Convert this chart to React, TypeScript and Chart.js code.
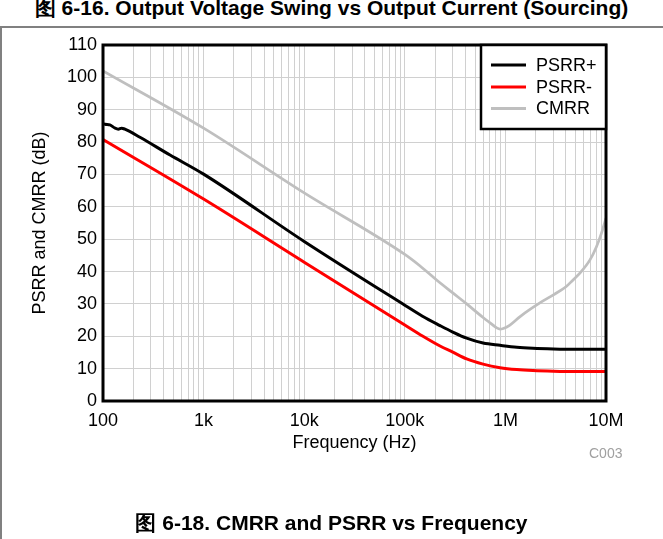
import React, { useEffect, useRef } from 'react';
import { Chart, registerables } from 'chart.js';

Chart.register(...registerables);

const FONT = '"Liberation Sans", Arial, Helvetica, sans-serif';

// Tick labels
const yTickValues = [0, 10, 20, 30, 40, 50, 60, 70, 80, 90, 100, 110];
const xDecades = [100, 1000, 10000, 100000, 1000000, 10000000];
const xDecadeLabels = ['100', '1k', '10k', '100k', '1M', '10M'];

// Series names / colours
const seriesNames = ['PSRR+', 'PSRR-', 'CMRR'];
const seriesColors = ['#000000', '#ff0000', '#bfbfbf'];

// PSRR+ (dB) vs frequency (Hz)
const psrrPlusFreq = [100, 105, 117, 132, 142, 153, 165, 233, 464, 1000, 10000, 100000, 150000, 224000, 300000, 412000, 600000, 884000, 1300000, 1880000, 3000000, 5000000, 10000000];
const psrrPlusDb = [85.7, 85.5, 85.3, 84.3, 84.0, 84.3, 84.0, 81.5, 76.0, 70.1, 49.3, 29.6, 26.2, 23.3, 21.3, 19.4, 17.9, 17.2, 16.6, 16.3, 16.1, 16.0, 16.0];

// PSRR- (dB)
const psrrMinusFreq = [100, 1000, 10000, 100000, 150000, 224000, 300000, 412000, 600000, 884000, 1300000, 1880000, 3000000, 5000000, 10000000];
const psrrMinusDb = [80.8, 62.4, 42.9, 23.5, 20.1, 17.0, 15.1, 13.0, 11.4, 10.3, 9.7, 9.4, 9.2, 9.1, 9.1];

// CMRR (dB)
const cmrrFreq = [100, 1000, 10000, 100000, 141000, 207000, 300000, 412000, 600000, 700000, 819000, 884000, 953000, 1100000, 1400000, 2200000, 3000000, 4000000, 4700000, 5500000, 6930000, 8000000, 9000000, 10000000];
const cmrrDb = [102.0, 84.3, 64.3, 45.3, 41.8, 37.4, 33.4, 30.0, 25.8, 24.2, 22.6, 22.2, 22.4, 23.4, 26.1, 30.3, 32.8, 35.3, 37.4, 39.5, 43.6, 47.5, 51.8, 56.5];

const minorTicks: number[] = [];
for (let e = 2; e <= 7; e++) {
  for (let m = 1; m <= 9; m++) {
    const v = m * Math.pow(10, e);
    if (v <= 10000000) minorTicks.push(v);
  }
}

function toPoints(f: number[], v: number[]) {
  return f.map((x, i) => ({ x, y: v[i] }));
}

const framePlugin = {
  id: 'frameAndLegend',
  afterDraw(chart: any) {
    const { ctx, chartArea } = chart;
    const { left, top, right, bottom } = chartArea;
    ctx.save();
    ctx.strokeStyle = '#000';
    ctx.lineWidth = 3;
    ctx.strokeRect(left, top, right - left, bottom - top);

    // legend box
    const bw = 125;
    const bh = 84;
    const bx = right - bw;
    const by = top;
    ctx.fillStyle = '#fff';
    ctx.fillRect(bx, by, bw, bh);
    ctx.lineWidth = 2.5;
    ctx.strokeRect(bx, by, bw, bh);
    ctx.font = '18px ' + FONT;
    ctx.textBaseline = 'middle';
    ctx.textAlign = 'left';
    const rows = [20, 42, 63.5];
    seriesNames.forEach((name, i) => {
      const y = by + rows[i];
      ctx.strokeStyle = seriesColors[i];
      ctx.lineWidth = 3;
      ctx.beginPath();
      ctx.moveTo(bx + 10, y);
      ctx.lineTo(bx + 45, y);
      ctx.stroke();
      ctx.fillStyle = '#000';
      ctx.fillText(name, bx + 55, y + 1);
    });
    ctx.restore();
  },
};

export default function App() {
  const canvasRef = useRef<HTMLCanvasElement>(null);

  useEffect(() => {
    const canvas = canvasRef.current;
    if (!canvas) return;
    const chart = new Chart(canvas, {
      type: 'line',
      data: {
        datasets: [
          {
            label: seriesNames[0],
            data: toPoints(psrrPlusFreq, psrrPlusDb),
            borderColor: seriesColors[0],
            borderWidth: 3,
            pointRadius: 0,
            cubicInterpolationMode: 'monotone',
            order: 1,
          },
          {
            label: seriesNames[1],
            data: toPoints(psrrMinusFreq, psrrMinusDb),
            borderColor: seriesColors[1],
            borderWidth: 3,
            pointRadius: 0,
            cubicInterpolationMode: 'monotone',
            order: 2,
          },
          {
            label: seriesNames[2],
            data: toPoints(cmrrFreq, cmrrDb),
            borderColor: seriesColors[2],
            borderWidth: 2.75,
            pointRadius: 0,
            cubicInterpolationMode: 'monotone',
            order: 3,
          },
        ],
      },
      options: {
        animation: false,
        responsive: false,
        maintainAspectRatio: false,
        layout: { padding: { top: 45, left: 0, right: 57, bottom: 78 } },
        plugins: { legend: { display: false }, tooltip: { enabled: false } },
        scales: {
          x: {
            type: 'logarithmic',
            min: 100,
            max: 10000000,
            afterBuildTicks: (s: any) => {
              s.ticks = minorTicks.map((v) => ({ value: v }));
            },
            afterFit: (s: any) => {
              s.height = 60;
            },
            ticks: {
              autoSkip: false,
              maxRotation: 0,
              minRotation: 0,
              padding: 9,
              color: '#000',
              font: { family: FONT, size: 18 },
              callback: (value: any) => {
                const v = Number(value);
                const idx = xDecades.findIndex((d) => Math.abs(v - d) / d < 1e-6);
                return idx >= 0 ? xDecadeLabels[idx] : '';
              },
            },
            grid: { color: '#d0d0d0', lineWidth: 1, drawTicks: false },
            border: { display: false },
            title: {
              display: true,
              text: 'Frequency (Hz)',
              color: '#000',
              font: { family: FONT, size: 18 },
              padding: { top: 0, bottom: 7 },
            },
          },
          y: {
            type: 'linear',
            min: 0,
            max: 110,
            afterBuildTicks: (s: any) => {
              s.ticks = yTickValues.map((v) => ({ value: v }));
            },
            afterFit: (s: any) => {
              s.width = 103;
            },
            ticks: {
              padding: 6,
              color: '#000',
              font: { family: FONT, size: 18 },
            },
            grid: { color: '#d0d0d0', lineWidth: 1, drawTicks: false },
            border: { display: false },
            title: {
              display: true,
              text: 'PSRR and CMRR (dB)',
              color: '#000',
              font: { family: FONT, size: 18 },
              padding: { top: 29, bottom: 0 },
            },
          },
        },
      },
      plugins: [framePlugin],
    } as any);
    return () => chart.destroy();
  }, []);

  return (
    <div
      style={{
        position: 'absolute',
        left: 0,
        top: 0,
        width: 663,
        height: 539,
        overflow: 'hidden',
        background: '#fff',
        fontFamily: FONT,
      }}
    >
      <div
        style={{
          position: 'absolute',
          left: 0,
          top: -4,
          width: 663,
          textAlign: 'center',
          fontWeight: 'bold',
          fontSize: 21,
          lineHeight: '24px',
          whiteSpace: 'nowrap',
        }}
      >
        图 6-16. Output Voltage Swing vs Output Current (Sourcing)
      </div>
      <div style={{ position: 'absolute', left: 0, top: 26, width: 663, height: 2, background: '#808080' }} />
      <div style={{ position: 'absolute', left: 0, top: 26, width: 2, height: 513, background: '#808080' }} />
      <canvas
        ref={canvasRef}
        width={663}
        height={539}
        style={{ position: 'absolute', left: 0, top: 0, width: 663, height: 539 }}
      />
      <div
        style={{
          position: 'absolute',
          left: 589,
          top: 445,
          fontSize: 14,
          lineHeight: '16px',
          color: '#a0a0a0',
          whiteSpace: 'nowrap',
        }}
      >
        C003
      </div>
      <div
        style={{
          position: 'absolute',
          left: 0,
          top: 511,
          width: 663,
          textAlign: 'center',
          fontWeight: 'bold',
          fontSize: 21,
          lineHeight: '24px',
          whiteSpace: 'nowrap',
        }}
      >
        图 6-18. CMRR and PSRR vs Frequency
      </div>
    </div>
  );
}
